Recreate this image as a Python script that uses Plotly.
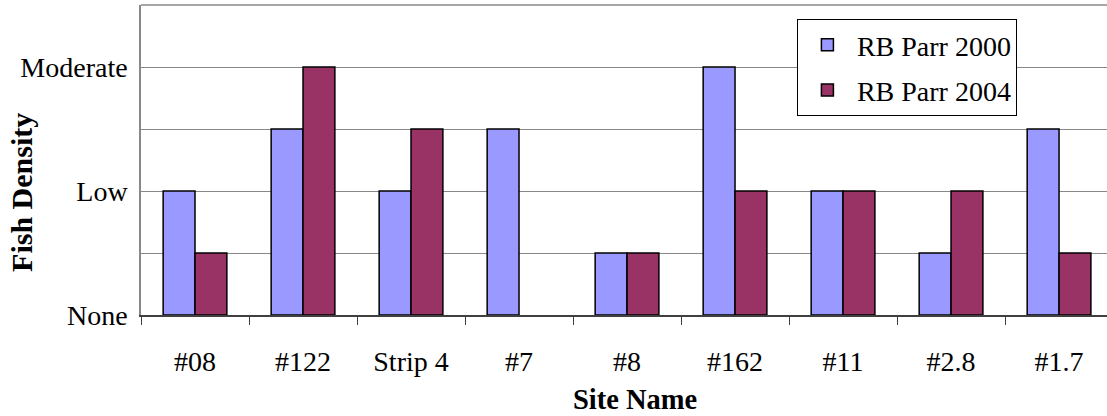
import plotly.graph_objects as go

# Survey sites and rainbow trout parr density scores (0 = None, 2 = Low, 4 = Moderate)
sites = ["#08", "#122", "Strip 4", "#7", "#8", "#162", "#11", "#2.8", "#1.7"]
parr_2000 = [2, 3, 2, 3, 1, 4, 2, 1, 3]
parr_2004 = [1, 4, 3, 0, 1, 2, 2, 2, 1]

density_ticks = [0, 1, 2, 3, 4, 5]
density_labels = ["None", "", "Low", "", "Moderate", ""]

FONT = "Liberation Serif, Times New Roman, serif"
FS = 28


def outline_widths(values):
    # empty bars get no outline so nothing is drawn for them
    return [1.5 if v > 0 else 0 for v in values]


fig = go.Figure()
fig.add_trace(go.Bar(
    name="RB Parr 2000", x=sites, y=parr_2000, legendgroup="y2000",
    marker=dict(color="#9999FF", line=dict(color="#000000", width=outline_widths(parr_2000))),
))
fig.add_trace(go.Bar(
    name="RB Parr 2004", x=sites, y=parr_2004, legendgroup="y2004",
    marker=dict(color="#993366", line=dict(color="#000000", width=outline_widths(parr_2004))),
))

fig.update_layout(
    width=1107, height=416,
    margin=dict(l=141, r=0, t=5, b=101),
    paper_bgcolor="white", plot_bgcolor="white",
    font=dict(family=FONT, size=FS, color="black"),
    barmode="group", bargap=0.41, bargroupgap=0,
    showlegend=True,
    legend=dict(
        x=0.679, y=0.955, xanchor="left", yanchor="top",
        bgcolor="white", bordercolor="black", borderwidth=1,
        font=dict(family=FONT, size=FS),
        tracegroupgap=6, itemwidth=49,
        entrywidth=200, entrywidthmode="pixels",
    ),
)

fig.update_xaxes(
    type="category", range=[-0.5, 8.444], automargin=False,
    tickson="boundaries", ticks="outside", ticklen=8, tickwidth=1, tickcolor="#404040",
    showline=True, linecolor="#404040", linewidth=1.5,
    showgrid=False, ticklabelstandoff=21,
)

fig.update_yaxes(
    range=[0, 5], tickvals=density_ticks, ticktext=density_labels, automargin=False,
    showgrid=True, gridcolor="#888888", gridwidth=1,
    showline=True, linecolor="#888888", linewidth=1.5,
    zeroline=False, ticks="", ticklabelstandoff=6,
)

# axis titles
fig.add_annotation(text="<b>Site Name</b>", xref="paper", yref="paper",
                   x=0.5114, y=-0.274, xanchor="center", yanchor="middle",
                   showarrow=False, font=dict(family=FONT, size=28.5))
fig.add_annotation(text="<b>Fish Density</b>", xref="paper", yref="paper",
                   x=-0.1232, y=0.397, xanchor="center", yanchor="middle", textangle=-90,
                   showarrow=False, font=dict(family=FONT, size=30))

# top edge of the plotting area
fig.add_shape(type="line", xref="paper", yref="paper", x0=0, x1=1, y0=1, y1=1,
              line=dict(color="#888888", width=1.5))

fig.write_html("out.html")
